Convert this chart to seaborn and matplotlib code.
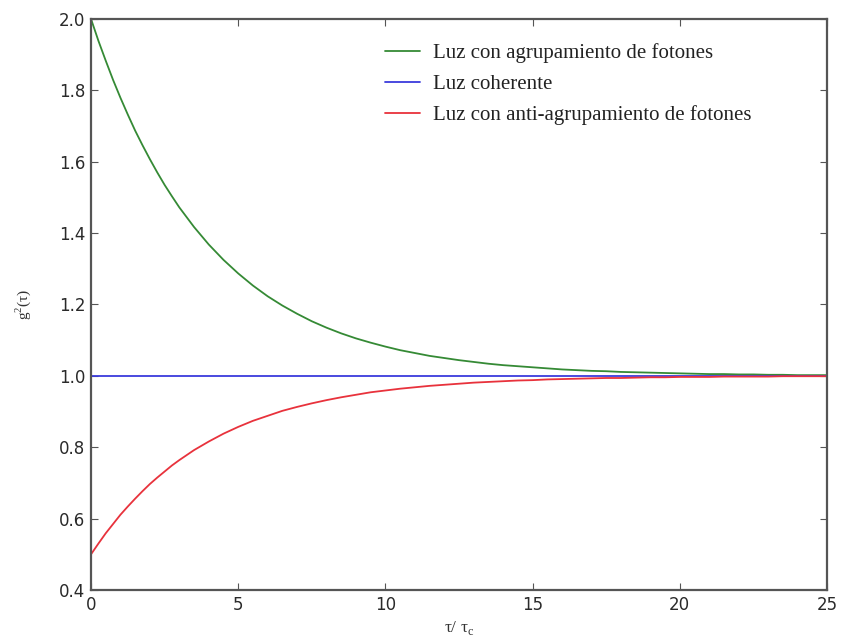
import numpy as np
import pandas as pd
import matplotlib
matplotlib.use("Agg")
import matplotlib.pyplot as plt
import seaborn as sns

# Normalised delay tau / tau_c
tau = [0.0, 0.25, 0.5, 0.75, 1.0, 1.25, 1.5, 1.75, 2.0, 2.25, 2.5, 2.75, 3.0,
       3.5, 4.0, 4.5, 5.0, 5.5, 6.0, 6.5, 7.0, 7.5, 8.0, 8.5, 9.0, 9.5, 10.0,
       10.5, 11.0, 11.5, 12.0, 12.5, 13.0, 13.5, 14.0, 14.5, 15.0, 15.5, 16.0,
       16.5, 17.0, 17.5, 18.0, 18.5, 19.0, 19.5, 20.0, 20.5, 21.0, 21.5, 22.0,
       22.5, 23.0, 23.5, 24.0, 24.5, 25.0]

# Second-order correlation g2 for each kind of light
g2_bunched = [2.000, 1.939, 1.883, 1.829, 1.779, 1.732, 1.687, 1.646, 1.607,
              1.570, 1.535, 1.503, 1.472, 1.417, 1.368, 1.325, 1.287, 1.253,
              1.223, 1.197, 1.174, 1.153, 1.135, 1.119, 1.105, 1.093, 1.082,
              1.072, 1.064, 1.056, 1.050, 1.044, 1.039, 1.034, 1.030, 1.027,
              1.024, 1.021, 1.018, 1.016, 1.014, 1.013, 1.011, 1.010, 1.009,
              1.008, 1.007, 1.006, 1.005, 1.005, 1.004, 1.004, 1.003, 1.003,
              1.002, 1.002, 1.002]
g2_coherent = [1.0] * len(tau)
g2_antibunched = [0.500, 0.530, 0.559, 0.585, 0.611, 0.634, 0.656, 0.677, 0.697,
                  0.715, 0.732, 0.749, 0.764, 0.792, 0.816, 0.838, 0.857, 0.874,
                  0.888, 0.902, 0.913, 0.923, 0.932, 0.940, 0.947, 0.954, 0.959,
                  0.964, 0.968, 0.972, 0.975, 0.978, 0.981, 0.983, 0.985, 0.987,
                  0.988, 0.990, 0.991, 0.992, 0.993, 0.994, 0.994, 0.995, 0.996,
                  0.996, 0.997, 0.997, 0.997, 0.998, 0.998, 0.998, 0.998, 0.999,
                  0.999, 0.999, 0.999]

series_names = ["Luz con agrupamiento de fotones", "Luz coherente",
                "Luz con anti-agrupamiento de fotones"]
series_colors = ["#358a35", "#3b3bdc", "#e8323c"]

x_ticks = [0, 5, 10, 15, 20, 25]
y_ticks = [0.4, 0.6, 0.8, 1.0, 1.2, 1.4, 1.6, 1.8, 2.0]

frames = []
for name, vals in zip(series_names, [g2_bunched, g2_coherent, g2_antibunched]):
    frames.append(pd.DataFrame({"tau": tau, "g2": vals, "tipo": name}))
df = pd.concat(frames, ignore_index=True)

sns.set_style("ticks")
plt.rcParams["xtick.direction"] = "in"
plt.rcParams["ytick.direction"] = "in"
plt.rcParams["font.family"] = ["DejaVu Sans"]

fig = plt.figure(figsize=(8.46, 6.39), dpi=100)
ax = fig.add_axes([0.1076, 0.0767, 0.8699, 0.8936])

sns.lineplot(data=df, x="tau", y="g2", hue="tipo", hue_order=series_names,
             palette=dict(zip(series_names, series_colors)), linewidth=1.3,
             ax=ax, legend=False)

ax.set_xlim(0, 25)
ax.set_ylim(0.4, 2.0)
ax.set_xticks(x_ticks)
ax.set_yticks(y_ticks)
ax.set_xticklabels([str(t) for t in x_ticks])
ax.set_yticklabels([f"{t:.1f}" for t in y_ticks])
ax.tick_params(axis="both", which="major", labelsize=12, length=5, width=0.8,
               colors="#555555", labelcolor="#2a2a2a", top=True, right=True,
               pad=4)

for sp in ax.spines.values():
    sp.set_color("#555555")
    sp.set_linewidth(1.6)

serif = ["Liberation Serif", "DejaVu Serif"]
ax.set_xlabel(r"τ/ τ$_\mathregular{c}$", fontsize=12.5, family=serif,
              color="#333333", labelpad=4)
ax.set_ylabel(r"g$^\mathregular{2}$(τ)", fontsize=11, family=serif,
              color="#333333", labelpad=19)

handles = [plt.Line2D([], [], color=c, linewidth=1.3) for c in series_colors]
leg = ax.legend(handles, series_names, loc="upper left",
                bbox_to_anchor=(0.3995, 0.958), frameon=False,
                borderaxespad=0, borderpad=0,
                prop={"family": serif, "size": 15}, handlelength=1.7,
                handletextpad=0.6, labelspacing=0.55)
for t in leg.get_texts():
    t.set_color("#222222")

fig.savefig("out.png", dpi=100)
